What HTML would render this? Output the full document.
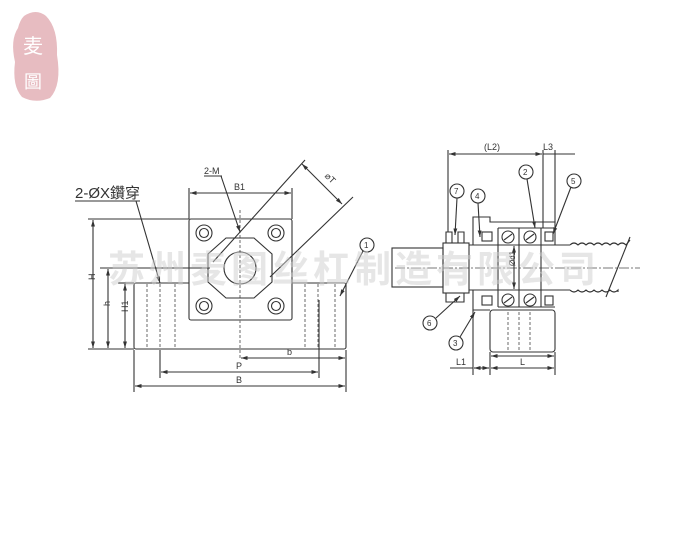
<!DOCTYPE html>
<html><head><meta charset="utf-8"><style>
body{margin:0;background:#fff;width:698px;height:533px;overflow:hidden}
svg{display:block}
text{font-family:"Liberation Sans","Noto Sans CJK SC",sans-serif;fill:#333}
</style></head><body>
<svg width="698" height="533" viewBox="0 0 698 533" xmlns="http://www.w3.org/2000/svg">
<defs>
<marker id="a" viewBox="0 0 10 10" refX="10" refY="5" markerWidth="6" markerHeight="6" orient="auto-start-reverse"><path d="M0,2 L10,5 L0,8z" fill="#333"/></marker>
</defs>
<!-- logo -->
<path d="M24,16 Q36,8 46,16 Q58,28 57,55 Q62,85 50,98 Q35,104 22,97 Q12,86 15,62 Q10,40 18,28 Q20,20 24,16Z" fill="#e7bcc1"/>
<text x="23" y="53" font-size="20" style="fill:#fff" font-family="Noto Serif CJK SC,serif">麦</text>
<text x="24" y="88" font-size="18" style="fill:#fff">圖</text>

<g stroke="#333" stroke-width="1.1" fill="none">
<!-- left drawing -->
<rect x="134" y="283" width="212" height="66" rx="2"/>
<rect x="189" y="219" width="103" height="101" rx="2" fill="#fff"/>
<g stroke-dasharray="3,2" stroke="#777">
<line x1="147" y1="284" x2="147" y2="348"/><line x1="160" y1="284" x2="160" y2="348"/><line x1="175" y1="284" x2="175" y2="348"/>
<line x1="305" y1="284" x2="305" y2="348"/><line x1="318" y1="284" x2="318" y2="348"/><line x1="335" y1="284" x2="335" y2="348"/>
<line x1="240" y1="210" x2="240" y2="360"/>
</g>
<path d="M226,238 L254,238 L272,254 L272,282 L254,298 L226,298 L208,282 L208,254Z"/>
<circle cx="240" cy="268" r="16"/>
<circle cx="204" cy="233" r="8"/><circle cx="204" cy="233" r="4.5"/>
<circle cx="276" cy="233" r="8"/><circle cx="276" cy="233" r="4.5"/>
<circle cx="204" cy="306" r="8"/><circle cx="204" cy="306" r="4.5"/>
<circle cx="276" cy="306" r="8"/><circle cx="276" cy="306" r="4.5"/>
<!-- dims -->
<line x1="88" y1="219" x2="189" y2="219"/><line x1="88" y1="349" x2="134" y2="349"/>
<line x1="100" y1="268" x2="210" y2="268"/><line x1="118" y1="283" x2="134" y2="283"/>
<line x1="93" y1="220" x2="93" y2="348" marker-start="url(#a)" marker-end="url(#a)"/>
<line x1="108" y1="269" x2="108" y2="348" marker-start="url(#a)" marker-end="url(#a)"/>
<line x1="125" y1="284" x2="125" y2="348" marker-start="url(#a)" marker-end="url(#a)"/>
<line x1="189" y1="188" x2="189" y2="219"/><line x1="292" y1="188" x2="292" y2="219"/>
<line x1="190" y1="193" x2="291" y2="193" marker-start="url(#a)" marker-end="url(#a)"/>
<line x1="134" y1="350" x2="134" y2="392"/><line x1="346" y1="350" x2="346" y2="392"/>
<line x1="160" y1="350" x2="160" y2="378"/><line x1="319" y1="300" x2="319" y2="378"/>
<line x1="241" y1="358" x2="345" y2="358" marker-start="url(#a)" marker-end="url(#a)"/>
<line x1="161" y1="372" x2="318" y2="372" marker-start="url(#a)" marker-end="url(#a)"/>
<line x1="135" y1="386" x2="345" y2="386" marker-start="url(#a)" marker-end="url(#a)"/>
<line x1="305" y1="160" x2="213" y2="262"/><line x1="353" y1="197" x2="270" y2="277"/>
<line x1="302" y1="164" x2="342" y2="204" marker-start="url(#a)" marker-end="url(#a)"/>
<line x1="75" y1="201" x2="140" y2="201"/><line x1="136" y1="201" x2="160" y2="283" marker-end="url(#a)"/>
<line x1="204" y1="176" x2="222" y2="176"/><line x1="221" y1="176" x2="240" y2="232" marker-end="url(#a)"/>
<circle cx="367" cy="245" r="7"/><line x1="363" y1="251" x2="340" y2="296" marker-end="url(#a)"/>

<!-- right drawing -->
<line x1="395" y1="268" x2="640" y2="268" stroke-dasharray="10,2,2,2" stroke="#777"/>
<rect x="392" y="248" width="51" height="39"/>
<rect x="443" y="243" width="26" height="50"/>
<path d="M446,243 L446,232 L452,232 L452,243 M458,243 L458,232 L464,232 L464,243"/>
<path d="M446,293 L446,302 L464,302 L464,293"/>
<line x1="469" y1="245" x2="570" y2="245"/><line x1="469" y1="290" x2="570" y2="290"/>
<path d="M570,245 q4,-4 8,0 q4,-4 8,0 q4,-4 8,0 q4,-4 8,0 q4,-4 8,0 q4,-4 8,0 q4,-4 8,0 L630,240"/>
<path d="M570,290 q4,4 8,0 q4,4 8,0 q4,4 8,0 q4,4 8,0 q4,4 8,0 q4,4 8,0 L618,292"/>
<line x1="630" y1="237" x2="606" y2="297"/>
<path d="M473,245 L473,217 L490,217 L490,222 L555,222 L555,245"/>
<path d="M473,290 L473,310 L490,310"/>
<rect x="490" y="310" width="65" height="42" rx="3"/>
<g stroke-dasharray="3,2" stroke="#777"><line x1="508" y1="312" x2="508" y2="352"/><line x1="519" y1="312" x2="519" y2="352"/><line x1="530" y1="312" x2="530" y2="352"/></g>
<line x1="498" y1="228" x2="555" y2="228"/><line x1="498" y1="307" x2="555" y2="307"/>
<line x1="498" y1="228" x2="498" y2="307"/><line x1="519" y1="228" x2="519" y2="307"/><line x1="541" y1="228" x2="541" y2="307"/>
<rect x="482" y="232" width="10" height="9"/><rect x="545" y="232" width="8" height="9"/>
<rect x="482" y="296" width="10" height="9"/><rect x="545" y="296" width="8" height="9"/>
<circle cx="508" cy="237" r="6"/><circle cx="530" cy="237" r="6"/><circle cx="508" cy="300" r="6"/><circle cx="530" cy="300" r="6"/>
<line x1="504" y1="240" x2="512" y2="234"/><line x1="526" y1="240" x2="534" y2="234"/><line x1="504" y1="303" x2="512" y2="297"/><line x1="526" y1="303" x2="534" y2="297"/>
<line x1="514" y1="246" x2="514" y2="289" marker-start="url(#a)" marker-end="url(#a)"/>
<!-- dims -->
<line x1="448" y1="150" x2="448" y2="232"/><line x1="555" y1="150" x2="555" y2="222"/><line x1="543" y1="150" x2="543" y2="228"/>
<line x1="449" y1="154" x2="542" y2="154" marker-start="url(#a)" marker-end="url(#a)"/>
<line x1="543" y1="154" x2="575" y2="154"/>
<line x1="473" y1="310" x2="473" y2="375"/><line x1="490" y1="352" x2="490" y2="375"/><line x1="555" y1="352" x2="555" y2="375"/>
<line x1="474" y1="368" x2="489" y2="368" marker-start="url(#a)" marker-end="url(#a)"/><line x1="450" y1="368" x2="473" y2="368"/>
<line x1="491" y1="368" x2="554" y2="368" marker-start="url(#a)" marker-end="url(#a)"/>
<line x1="491" y1="356" x2="554" y2="356" marker-start="url(#a)" marker-end="url(#a)"/>
<circle cx="457" cy="191" r="7"/><line x1="457" y1="198" x2="455" y2="235" marker-end="url(#a)"/>
<circle cx="478" cy="196" r="7"/><line x1="478" y1="203" x2="480" y2="237" marker-end="url(#a)"/>
<circle cx="526" cy="172" r="7"/><line x1="527" y1="179" x2="535" y2="228" marker-end="url(#a)"/>
<circle cx="574" cy="181" r="7"/><line x1="571" y1="187" x2="553" y2="234" marker-end="url(#a)"/>
<circle cx="430" cy="323" r="7"/><line x1="436" y1="318" x2="460" y2="296" marker-end="url(#a)"/>
<circle cx="456" cy="343" r="7"/><line x1="460" y1="337" x2="475" y2="312" marker-end="url(#a)"/>
</g>
<!-- labels -->
<text x="75" y="198" font-size="15">2-ØX鑽穿</text>
<text x="204" y="174" font-size="9">2-M</text>
<text x="234" y="190" font-size="9">B1</text>
<text x="322" y="178" font-size="9" transform="rotate(45 325 180)">⌀T</text>
<text x="96" y="287" font-size="9" transform="rotate(-90 92 284)">H</text>
<text x="111" y="313" font-size="9" transform="rotate(-90 107 310)">h</text>
<text x="128" y="320" font-size="9" transform="rotate(-90 124 316)">H1</text>
<text x="287" y="355" font-size="9">b</text>
<text x="236" y="369" font-size="9">P</text>
<text x="236" y="383" font-size="9">B</text>
<text x="364" y="248" font-size="8">1</text>
<text x="484" y="150" font-size="9">(L2)</text>
<text x="543" y="150" font-size="9">L3</text>
<text x="456" y="365" font-size="9">L1</text>
<text x="520" y="365" font-size="9">L</text>
<text x="511" y="274" font-size="8" transform="rotate(-90 509 268)">Ød1</text>
<text x="454" y="194" font-size="8">7</text><text x="475" y="199" font-size="8">4</text>
<text x="523" y="175" font-size="8">2</text><text x="571" y="184" font-size="8">5</text>
<text x="427" y="326" font-size="8">6</text><text x="453" y="346" font-size="8">3</text>
<!-- watermark -->
<text x="108" y="282" font-size="37" letter-spacing="4" style="fill:#cfcfcf;opacity:0.5;font-weight:bold">苏州麦图丝杠制造有限公司</text>
</svg>
</body></html>
